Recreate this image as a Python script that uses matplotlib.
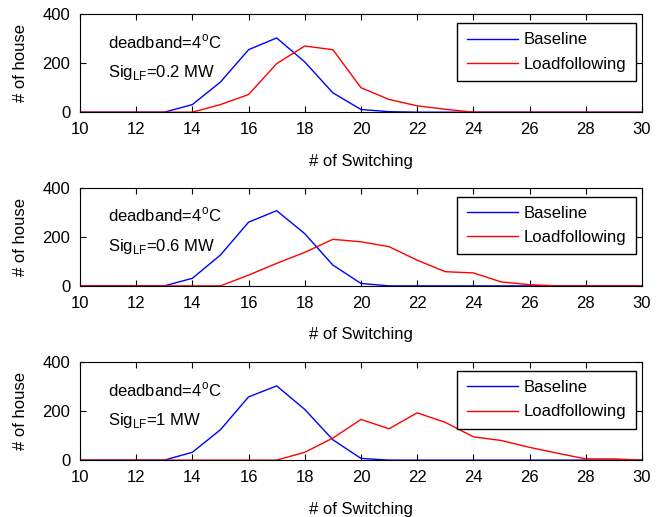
import matplotlib
matplotlib.use("Agg")
import matplotlib.pyplot as plt
import numpy as np

plt.rcParams['font.family'] = ['Liberation Sans', 'DejaVu Sans']
plt.rcParams['mathtext.fontset'] = 'custom'
plt.rcParams['mathtext.rm'] = 'Liberation Sans'

x = list(range(10, 31))

baseline_1 = [0, 0, 0, 0, 31, 123, 255, 303, 205, 79, 11, 2, 0, 0, 0, 0, 0, 0, 0, 0, 0]
load_1 = [0, 0, 0, 0, 0, 31, 72, 198, 270, 255, 100, 52, 26, 12, 0, 0, 0, 0, 0, 0, 0]

baseline_2 = [0, 0, 0, 0, 31, 126, 260, 307, 213, 85, 10, 0, 0, 0, 0, 0, 0, 0, 0, 0, 0]
load_2 = [0, 0, 0, 0, 0, 0, 44, 92, 137, 190, 180, 160, 105, 58, 53, 16, 5, 0, 0, 0, 0]

baseline_3 = [0, 0, 0, 0, 32, 124, 258, 303, 207, 83, 7, 0, 0, 0, 0, 0, 0, 0, 0, 0, 0]
load_3 = [0, 0, 0, 0, 0, 0, 0, 0, 32, 90, 166, 128, 193, 154, 95, 80, 52, 28, 5, 5, 0]

sig_labels = ["0.2 MW", "0.6 MW", "1 MW"]
baselines = [baseline_1, baseline_2, baseline_3]
loads = [load_1, load_2, load_3]

FS = 12
fig = plt.figure(figsize=(6.66, 5.17), dpi=100)
bottoms = [0.783, 0.447, 0.110]
for b, bl, ld, sig in zip(bottoms, baselines, loads, sig_labels):
    ax = fig.add_axes([0.120, b, 0.844, 0.1896])
    ax.plot(x, bl, color='blue', lw=1.0, label='Baseline')
    ax.plot(x, ld, color='red', lw=1.0, label='Loadfollowing')
    ax.set_xlim(10, 30)
    ax.set_ylim(0, 400)
    ax.set_xticks(range(10, 31, 2))
    ax.set_yticks([0, 200, 400])
    ax.tick_params(direction='in', top=True, right=True, labelsize=FS, length=4, pad=7)
    ax.set_xlabel('# of Switching', fontsize=FS, labelpad=12)
    ax.set_ylabel('# of house', fontsize=FS, labelpad=10)
    ax.text(0.05, 0.72, r'deadband=4$^{\mathrm{o}}$C', transform=ax.transAxes,
            fontsize=FS, va='center', ha='left')
    ax.text(0.05, 0.40, r'Sig$_{\mathrm{LF}}$=' + sig, transform=ax.transAxes,
            fontsize=FS, va='center', ha='left')
    leg = ax.legend(loc='upper right', bbox_to_anchor=(0.989, 0.908), borderaxespad=0,
                    fontsize=FS, frameon=True, fancybox=False,
                    edgecolor='black', framealpha=1,
                    handlelength=3.1, handletextpad=0.35, borderpad=0.55, labelspacing=0.55)
    leg.get_frame().set_linewidth(1.0)

fig.savefig('out.png', dpi=100)
